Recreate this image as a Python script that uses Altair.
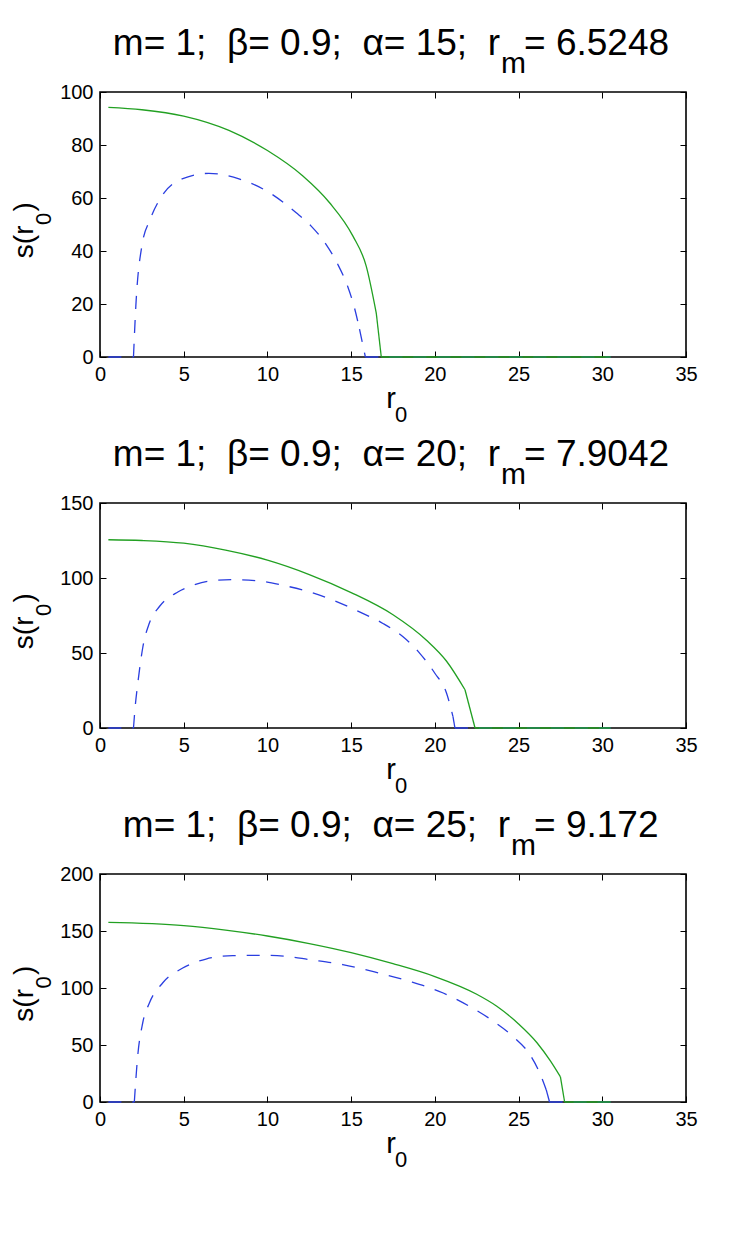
import altair as alt
import pandas as pd

FONT = "Liberation Sans"
BLUE = "#2a3ee0"
GREEN = "#22a022"
SP = "\u00a0"

alphas = [15, 20, 25]
r_m = ["6.5248", "7.9042", "9.172"]
y_max = [100, 150, 200]
x_ticks = [0, 5, 10, 15, 20, 25, 30, 35]
y_ticks = [[0, 20, 40, 60, 80, 100], [0, 50, 100, 150], [0, 50, 100, 150, 200]]

# alpha = 15
green_r_15 = [0.5, 2.5, 5, 7.7, 10, 12.1, 13.7, 15.1, 15.9, 16.5, 16.8, 30.5]
green_s_15 = [94.2, 93.3, 90.9, 85.5, 77.9, 68.4, 58.3, 45.7, 34.3, 16.6, 0, 0]
blue_r_15 = [0.5, 2.0, 2.14, 2.5, 3.0, 3.7, 4.9, 6.5, 8.3, 10.1, 11.7, 12.6, 13.5, 14.2,
             14.8, 15.2, 15.5, 15.85, 30.5]
blue_s_15 = [0, 0, 19.2, 41.9, 52.0, 60.8, 67.2, 69.3, 67.2, 62.1, 54.5, 49.5, 42.5, 35.0,
             26.5, 18.5, 10.5, 0, 0]

# alpha = 20
green_r_20 = [0.5, 2.5, 5, 7.5, 10, 12.5, 15, 17.5, 19.5, 20.7, 21.8, 22.4, 30.5]
green_s_20 = [125.5, 125.0, 123.2, 118.6, 111.9, 102.3, 90.3, 75.5, 58.5, 44.5, 25.5, 0, 0]
blue_r_20 = [0.5, 2.0, 2.1, 2.26, 2.56, 2.95, 3.55, 4.65, 5.55, 6.55, 7.94, 9.54, 10.94, 12.53,
             13.93, 15.5, 16.9, 18.1, 19.1, 20.0, 20.7, 21.08, 21.2, 30.5]
blue_s_20 = [0, 0, 14, 30, 54, 70, 81, 90.7, 95.1, 98.0, 98.9, 98.0, 95.1, 90.7,
             85.2, 77.4, 69.7, 60.8, 49.8, 36.5, 23.2, 7.7, 0, 0]

# alpha = 25
green_r_25 = [0.5, 5, 7.5, 10, 12.5, 15, 17.5, 20, 22.5, 23.7, 25, 26.1, 26.9, 27.5, 27.75, 30.5]
green_s_25 = [157.6, 154.8, 150.8, 145.6, 139.0, 131.0, 121.3, 110.0, 94.5, 84.0, 68.5, 52.0,
              36.0, 22.0, 0, 0]
blue_r_25 = [0.5, 2.05, 2.25, 2.55, 2.95, 3.74, 4.94, 6.33, 7.93, 9.52, 11.1, 12.5, 14.5,
             16.5, 18.5, 20.5, 22.07, 23.5, 24.7, 25.7, 26.35, 26.65, 26.85, 30.5]
blue_s_25 = [0, 0, 40, 69.3, 86.8, 104.4, 117.5, 125.4, 128.4, 128.7, 127.8, 124.9, 120.5,
             113.7, 105.8, 95.6, 83.9, 70.8, 57.0, 41.0, 22.5, 10.8, 0, 0]

green_r = [green_r_15, green_r_20, green_r_25]
green_s = [green_s_15, green_s_20, green_s_25]
blue_r = [blue_r_15, blue_r_20, blue_r_25]
blue_s = [blue_s_15, blue_s_20, blue_s_25]

W = 586
heights = [265, 225, 228]
title_anchor = [400, 400, 410]


def segments(r, s):
    # flat lead-in, smooth arc, straight drop to zero, flat tail
    nz = [i for i, v in enumerate(s) if v > 0]
    lo, hi = max(nz[0] - 1, 0), nz[-1]
    z = min(hi + 1, len(r) - 1)
    parts = [("lead", range(0, lo + 1)), ("arc", range(lo, hi + 1)),
             ("drop", range(hi, z + 1)), ("tail", range(z, len(r)))]
    rows = [(r[i], s[i], name) for name, idx in parts for i in idx]
    return pd.DataFrame(rows, columns=["r", "s", "seg"])


def text(s, x, y, size, align="left", angle=0):
    return alt.Chart(pd.DataFrame({"t": [s]})).mark_text(
        align=align, baseline="alphabetic", font=FONT, fontSize=size,
        angle=angle, color="black",
    ).encode(x=alt.value(x), y=alt.value(y), text="t:N")


def panel(k):
    h = heights[k]
    xs = alt.Scale(domain=[0, 35], nice=False, zero=False)
    ys = alt.Scale(domain=[0, y_max[k]], nice=False)

    # blue layer carries the labelled axes (ticks pointing inward)
    blue = alt.Chart(segments(blue_r[k], blue_s[k])).mark_line(
        color=BLUE, strokeWidth=1.3, strokeDash=[13, 11], interpolate="monotone"
    ).encode(
        x=alt.X("r:Q", scale=xs, axis=alt.Axis(
            orient="top", offset=-h, values=x_ticks, labelBaseline="top",
            labelPadding=-13.5, title=None)),
        y=alt.Y("s:Q", scale=ys, axis=alt.Axis(
            orient="right", offset=-W, values=y_ticks[k], labelAlign="right",
            labelPadding=-13, title=None)),
        detail="seg:N",
    )

    # green layer carries the mirrored tick marks on top and right
    green = alt.Chart(segments(green_r[k], green_s[k])).mark_line(
        color=GREEN, strokeWidth=1.3, interpolate="monotone"
    ).encode(
        x=alt.X("r:Q", scale=xs, axis=alt.Axis(
            orient="bottom", offset=-h, values=x_ticks, labels=False, title=None)),
        y=alt.Y("s:Q", scale=ys, axis=alt.Axis(
            orient="left", offset=-W, values=y_ticks[k], labels=False, title=None)),
        detail="seg:N",
    )

    a = title_anchor[k]
    cy = h / 2 + 1
    main = f"m={SP}1;{SP}{SP}β={SP}0.9;{SP}{SP}α={SP}{alphas[k]};{SP}{SP}r"
    labels = [
        text(main, a, -37, 37, align="right"),
        text("m", a + 1, -19, 30),
        text(f"={SP}{r_m[k]}", a + 24, -37, 37),
        text("r", 296, h + 50.5, 29, align="right"),
        text("0", 295, h + 64.5, 22),
        text("s(r", -67, cy, 28, align="right", angle=270),
        text("0", -49, cy - 0.5, 22, angle=270),
        text(")", -67, cy - 14, 28, angle=270),
    ]

    return alt.layer(blue, green, *labels).resolve_axis(
        x="independent", y="independent"
    ).properties(width=W, height=h)


chart = alt.vconcat(
    *[panel(k) for k in range(3)], spacing=146, bounds="flush"
).properties(
    padding={"left": 2, "top": 16, "right": 5, "bottom": 5}
).configure_view(
    stroke="black", strokeWidth=1.6
).configure_axis(
    labelFont=FONT, labelFontSize=20, labelColor="black", tickColor="black",
    tickSize=6, tickWidth=1, grid=False, domain=False, labelFlush=False,
    labelOverlap=False
)

chart.save("out.html", embed_options={"renderer": "svg", "actions": False})
